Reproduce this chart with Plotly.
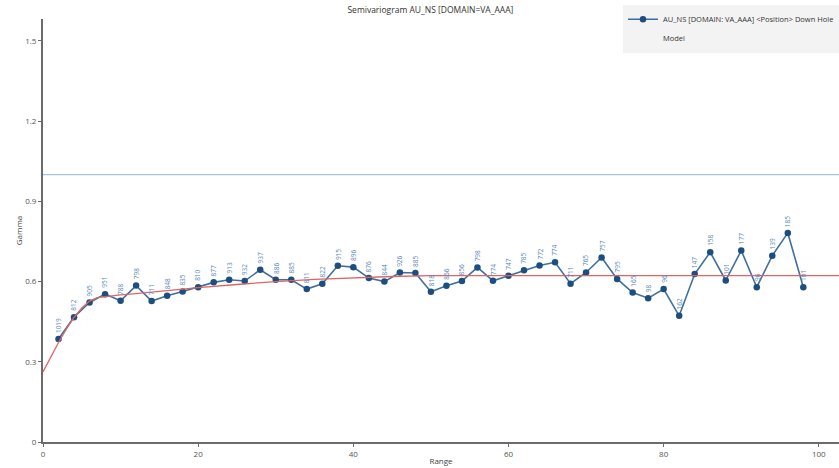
import plotly.graph_objects as go

title_text = "Semivariogram AU_NS [DOMAIN=VA_AAA]"
series_name = "AU_NS [DOMAIN: VA_AAA] &lt;Position&gt; Down Hole"
model_name = "Model"

lags = [2, 4, 6, 8, 10, 12, 14, 16, 18, 20, 22, 24, 26, 28, 30, 32, 34, 36, 38, 40,
        42, 44, 46, 48, 50, 52, 54, 56, 58, 60, 62, 64, 66, 68, 70, 72, 74, 76, 78, 80,
        82, 84, 86, 88, 90, 92, 94, 96, 98]
gamma = [0.385, 0.467, 0.522, 0.553, 0.528, 0.585, 0.527, 0.547, 0.563, 0.579,
         0.597, 0.607, 0.602, 0.644, 0.607, 0.607, 0.572, 0.592, 0.659, 0.654,
         0.613, 0.600, 0.634, 0.632, 0.562, 0.584, 0.602, 0.653, 0.603, 0.622,
         0.642, 0.660, 0.672, 0.592, 0.634, 0.690, 0.610, 0.559, 0.538, 0.572,
         0.472, 0.628, 0.710, 0.604, 0.716, 0.579, 0.697, 0.782, 0.579]
pairs = [1019, 812, 905, 951, 788, 798, 711, 848, 835, 810,
         877, 913, 932, 937, 886, 885, 811, 822, 915, 896,
         876, 844, 926, 885, 818, 866, 856, 798, 774, 747,
         785, 772, 774, 711, 765, 757, 795, 165, 98, 96,
         162, 147, 158, 101, 177, 96, 139, 185, 101]

model_range = [0, 1, 2, 3, 4, 5, 6, 7, 8, 10, 12, 15, 20, 25, 30, 35, 40, 45, 50, 102.6]
model_gamma = [0.262, 0.318, 0.372, 0.422, 0.466, 0.501, 0.527, 0.540, 0.544, 0.550,
               0.555, 0.564, 0.577, 0.589, 0.600, 0.608, 0.614, 0.619, 0.622, 0.622]

sill = 1.0
x_ticks = [0, 20, 40, 60, 80, 100]
y_ticks = [0, 0.3, 0.6, 0.9, 1.2, 1.5]

FONT = "Open Sans, Noto Sans, sans-serif"
BLUE = "#1c4f80"
LINE_BLUE = "#3d6f9f"
LABEL_BLUE = "#5a86b8"
RED = "#e06464"

fig = go.Figure()

fig.add_trace(go.Scatter(
    x=lags, y=gamma, mode="lines+markers", name=series_name,
    line=dict(color=LINE_BLUE, width=1.6),
    marker=dict(color=BLUE, size=6.5, symbol="circle"),
))
fig.add_trace(go.Scatter(
    x=model_range, y=model_gamma, mode="lines", name=model_name,
    line=dict(color=RED, width=1.3), showlegend=False,
))
# legend entry for the model (no visible symbol, as in the reference)
fig.add_trace(go.Scatter(
    x=[None], y=[None], mode="lines", name=model_name,
    line=dict(color="rgba(0,0,0,0)", width=1),
))

fig.add_shape(type="line", xref="paper", x0=0, x1=1, yref="y", y0=sill, y1=sill,
              line=dict(color="#a8c2de", width=1.3), layer="below")

for lx, gy, p in zip(lags, gamma, pairs):
    fig.add_annotation(x=lx, y=gy, text=str(p), textangle=-90, showarrow=False,
                       xanchor="center", yanchor="bottom", yshift=4,
                       font=dict(size=6.5, color=LABEL_BLUE, family=FONT))

fig.update_layout(
    width=839, height=468,
    margin=dict(l=43, r=0, t=19, b=26, autoexpand=False),
    paper_bgcolor="white", plot_bgcolor="white",
    font=dict(family=FONT, size=8, color="#444"),
    hovermode=False,
    title=dict(text=title_text, x=0.513, xref="container", xanchor="center",
               y=0.978, yref="container", yanchor="middle",
               font=dict(size=8.5, color="#333", family=FONT)),
    showlegend=True,
    legend=dict(xref="container", yref="container", x=1, y=0.99,
                xanchor="right", yanchor="top",
                bgcolor="#f3f3f3", borderwidth=0,
                font=dict(size=7.5, color="#333", family=FONT),
                itemwidth=30, tracegroupgap=0),
)

fig.update_xaxes(
    range=[0, 102.6], tickvals=x_ticks, showgrid=False, zeroline=False,
    showline=True, linecolor="#6b6b6b", linewidth=2,
    ticks="outside", ticklen=3, tickcolor="#6b6b6b",
    tickfont=dict(size=8, color="#555"),
    title=dict(text="Range", font=dict(size=8, color="#444"), standoff=1),
)
fig.update_yaxes(
    range=[0, 1.582], tickvals=y_ticks, showgrid=False, zeroline=False,
    showline=True, linecolor="#6b6b6b", linewidth=2,
    ticks="outside", ticklen=3, tickcolor="#6b6b6b",
    tickfont=dict(size=8, color="#555"),
    title=dict(text="Gamma", font=dict(size=8, color="#444"), standoff=1),
)

fig.write_html("out.html",
               config={"displayModeBar": False, "staticPlot": True},
               post_script="document.body.style.margin='0';document.body.style.padding='0';"
                           "document.body.style.overflow='hidden';")
